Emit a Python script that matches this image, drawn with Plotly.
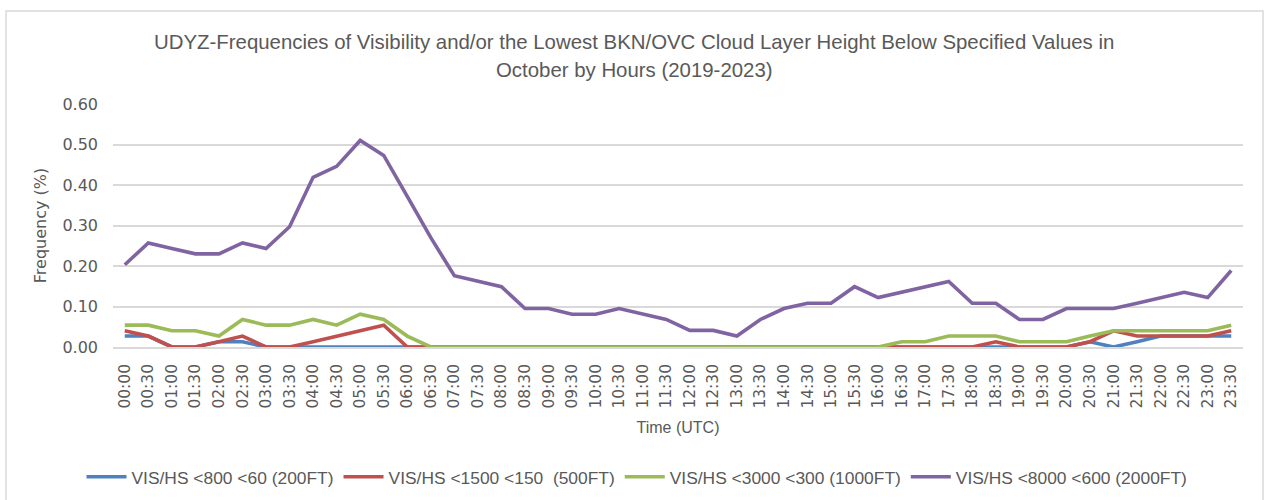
import plotly.graph_objects as go

times = [f"{h:02d}:{m:02d}" for h in range(24) for m in (0, 30)]

series_names = [
    "VIS/HS <800 <60 (200FT)",
    "VIS/HS <1500 <150  (500FT)",
    "VIS/HS <3000 <300 (1000FT)",
    "VIS/HS <8000 <600 (2000FT)",
]

vis_800 = [0.027, 0.027, 0, 0, 0.013, 0.013, 0, 0, 0, 0, 0, 0,
           0, 0, 0, 0, 0, 0, 0, 0, 0, 0, 0, 0,
           0, 0, 0, 0, 0, 0, 0, 0, 0, 0, 0, 0,
           0, 0, 0, 0, 0, 0.013, 0, 0.013, 0.027, 0.027, 0.027, 0.027]

vis_1500 = [0.040, 0.027, 0, 0, 0.013, 0.027, 0, 0, 0.013, 0.027, 0.040, 0.054,
            0, 0, 0, 0, 0, 0, 0, 0, 0, 0, 0, 0,
            0, 0, 0, 0, 0, 0, 0, 0, 0, 0, 0, 0,
            0, 0.013, 0, 0, 0, 0.013, 0.040, 0.027, 0.027, 0.027, 0.027, 0.040]

vis_3000 = [0.054, 0.054, 0.040, 0.040, 0.027, 0.068, 0.054, 0.054, 0.068, 0.054, 0.081, 0.068,
            0.027, 0, 0, 0, 0, 0, 0, 0, 0, 0, 0, 0,
            0, 0, 0, 0, 0, 0, 0, 0, 0, 0.013, 0.013, 0.027,
            0.027, 0.027, 0.013, 0.013, 0.013, 0.027, 0.040, 0.040, 0.040, 0.040, 0.040, 0.054]

vis_8000 = [0.203, 0.257, 0.243, 0.230, 0.230, 0.257, 0.243, 0.297, 0.419, 0.446, 0.510, 0.473,
            0.372, 0.270, 0.176, 0.162, 0.149, 0.095, 0.095, 0.081, 0.081, 0.095, 0.081, 0.068,
            0.041, 0.041, 0.027, 0.068, 0.095, 0.108, 0.108, 0.149, 0.122, 0.135, 0.149, 0.162,
            0.108, 0.108, 0.068, 0.068, 0.095, 0.095, 0.095, 0.108, 0.122, 0.135, 0.122, 0.189]

colors = ["#4F81BD", "#C0504D", "#9BBB59", "#8064A2"]
all_series = [vis_800, vis_1500, vis_3000, vis_8000]

y_ticks = [0.0, 0.1, 0.2, 0.3, 0.4, 0.5, 0.6]

title_lines = [
    "UDYZ-Frequencies of Visibility and/or the Lowest BKN/OVC Cloud Layer Height Below Specified Values in",
    "October by Hours (2019-2023)",
]

TXT = "#595959"
TEXTF = "Liberation Sans, Arial, sans-serif"
TICKF = "DejaVu Sans, sans-serif"

W, H = 1265, 500
ML, MR, MT, MB = 113, 22, 104, 153
PW, PH = W - ML - MR, H - MT - MB


def px_x(x):
    return (x - ML) / PW


def px_y(y):
    return (H - MB - y) / PH


fig = go.Figure()
for name, vals, col in zip(series_names, all_series, colors):
    fig.add_trace(go.Scatter(x=times, y=vals, mode="lines", name=name,
                             line=dict(color=col, width=3.6)))

annotations = []
for line, ypix in zip(title_lines, [42, 70]):
    annotations.append(dict(text=line, xref="paper", yref="paper",
                            x=px_x(634), y=px_y(ypix), xanchor="center", yanchor="middle",
                            showarrow=False, font=dict(family=TEXTF, size=20.4, color=TXT)))

fig.update_layout(
    width=W, height=H, autosize=False,
    margin=dict(l=ML, r=MR, t=MT, b=MB),
    paper_bgcolor="white", plot_bgcolor="white",
    annotations=annotations,
    xaxis=dict(
        type="category", range=[-0.5, 47.5], automargin=False, tickangle=-90,
        tickfont=dict(family=TICKF, size=15.5, color=TXT),
        showgrid=False, showline=True, linecolor="#d9d9d9", linewidth=1.5,
        ticks="", ticklabelstandoff=9,
        title=dict(text="Time (UTC)", font=dict(family=TEXTF, size=16, color=TXT), standoff=14),
    ),
    yaxis=dict(
        range=[0, 0.6], automargin=False, tickvals=y_ticks, tickformat=".2f",
        tickfont=dict(family=TICKF, size=16, color=TXT),
        showgrid=True, gridcolor="#d9d9d9", gridwidth=1.5,
        zeroline=False, ticks="", ticklabelstandoff=14,
        title=dict(text="Frequency (%)", font=dict(family=TICKF, size=16, color=TXT), standoff=11),
    ),
    legend=dict(
        orientation="h", xref="container", yref="container",
        x=637 / W, xanchor="center", y=1 - 477 / H, yanchor="middle",
        font=dict(family=TEXTF, size=17.4, color=TXT),
        itemwidth=40, tracegroupgap=0,
    ),
    shapes=[dict(type="rect", xref="paper", yref="paper",
                 x0=px_x(6), x1=px_x(1263), y0=px_y(505), y1=px_y(11),
                 line=dict(color="#d9d9d9", width=1.5), layer="below")],
)

fig.write_html(
    "out.html",
    config={"displayModeBar": False, "responsive": False},
    post_script="document.body.style.margin='0';document.body.style.overflow='hidden';",
)
